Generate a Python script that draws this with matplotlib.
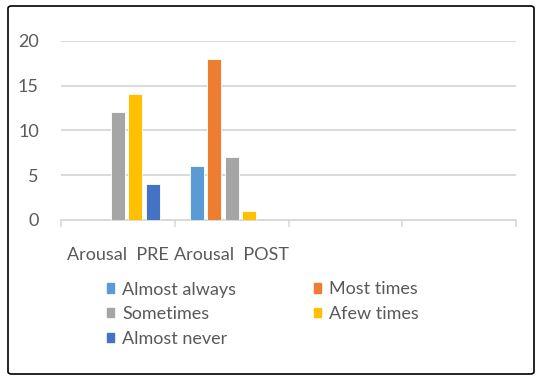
import numpy as np
import matplotlib
matplotlib.use("Agg")
import matplotlib.pyplot as plt
from matplotlib.patches import Patch, FancyBboxPatch

categories = ["Arousal  PRE", "Arousal  POST", "", ""]
series_names = ["Almost always", "Most times", "Sometimes", "Afew times", "Almost never"]
almost_always = [0, 6]
most_times = [0, 18]
sometimes = [12, 7]
afew_times = [14, 1]
almost_never = [4, 0]
colors = ["#5B9BD5", "#ED7D31", "#A5A5A5", "#FFC000", "#4472C4"]

plt.rcParams["font.family"] = ["Lato", "DejaVu Sans"]
text_col = "#595959"
grid_col = "#D9D9D9"

fig = plt.figure(figsize=(5.5, 3.85), dpi=100)
ax = fig.add_axes([61 / 550, 1 - 220 / 385, 455 / 550, (220 - 40.7) / 385])

series = [almost_always, most_times, sometimes, afew_times, almost_never]
x = np.arange(2)
step = 0.1535
width = 0.123
for i, vals in enumerate(series):
    v = np.array(vals, dtype=float)
    v[v == 0] = np.nan
    ax.bar(x + (i - 2) * step, v, width=width, color=colors[i],
           edgecolor="white", linewidth=0.6, zorder=3)

ax.set_xlim(-0.5, len(categories) - 0.5)
ax.set_ylim(0, 20)
ax.set_yticks([0, 5, 10, 15, 20])
ax.yaxis.grid(True, color=grid_col, linewidth=1.4)
ax.set_axisbelow(True)
for s in ["top", "right", "left"]:
    ax.spines[s].set_visible(False)
ax.spines["bottom"].set_color(grid_col)
ax.spines["bottom"].set_linewidth(1.4)
ax.tick_params(axis="y", length=0, pad=16, labelsize=13, labelcolor=text_col)

ax.set_xticks(np.arange(len(categories) + 1) - 0.5)
ax.set_xticklabels([])
ax.tick_params(axis="x", which="major", length=5, width=1.2, color=grid_col, direction="out")
ax.set_xticks(np.arange(len(categories)), minor=True)
ax.set_xticklabels(categories, minor=True)
ax.tick_params(axis="x", which="minor", length=0, pad=19.5, labelsize=13, labelcolor=text_col)

handles = [Patch(color=colors[i], label=series_names[i]) for i in [0, 2, 4, 1, 3]]
leg = fig.legend(handles=handles, ncol=2, loc="upper left",
                 bbox_to_anchor=(107 / 550, 1 - 281.5 / 385), frameon=False,
                 fontsize=13, labelcolor=text_col, handlelength=0.4, handleheight=0.4,
                 handletextpad=0.45, columnspacing=4.3, labelspacing=0.48,
                 borderpad=0, borderaxespad=0)

border = FancyBboxPatch((8 / 550, 1 - 374 / 385), 526 / 550, 368 / 385,
                        boxstyle="round,pad=0,rounding_size=0.006",
                        transform=fig.transFigure, facecolor="none",
                        edgecolor="black", linewidth=1.2)
fig.patches.append(border)

fig.savefig("out.png", dpi=100)
